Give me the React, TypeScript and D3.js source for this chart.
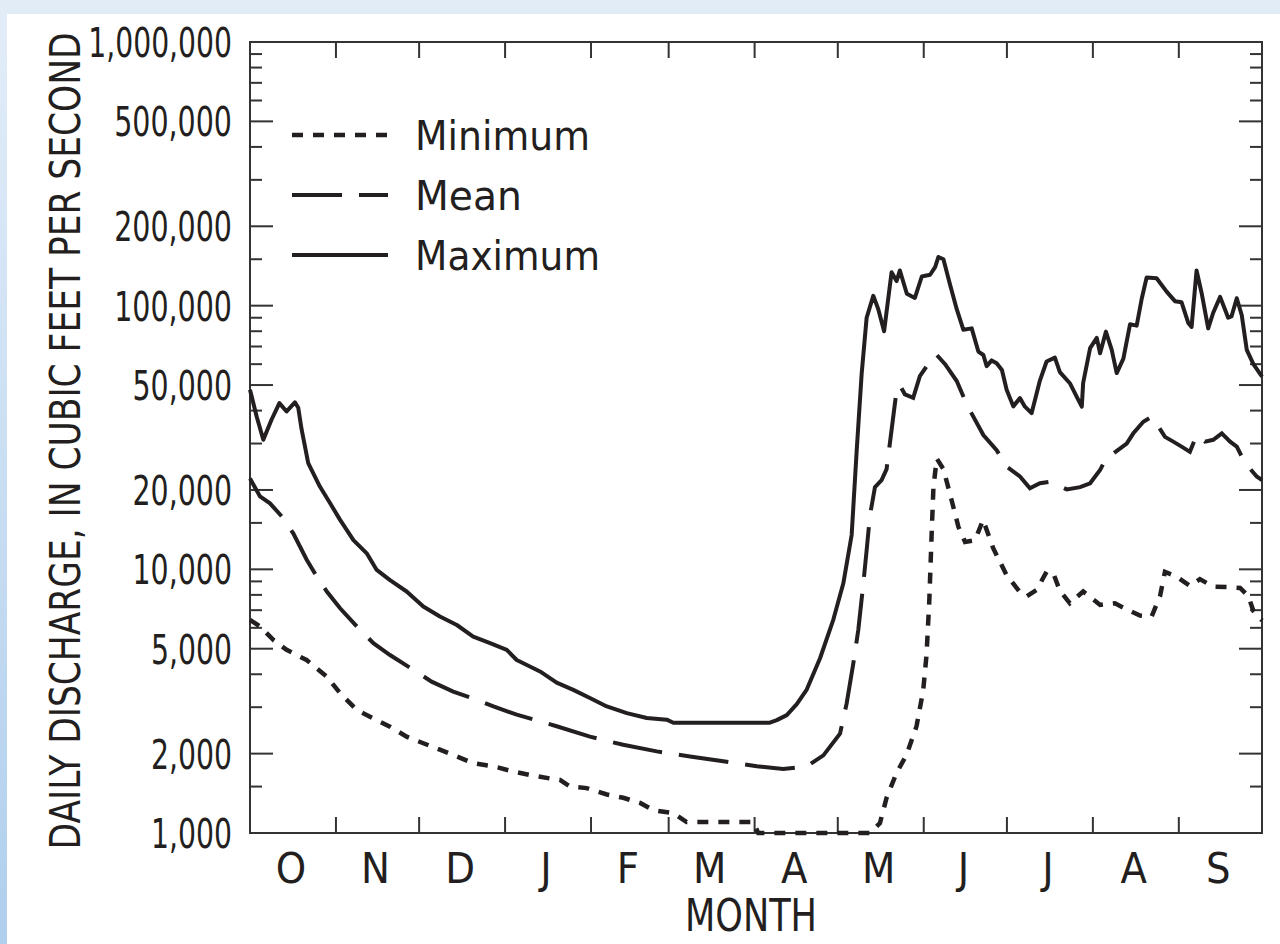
import * as React from 'react'
import * as d3 from 'd3'

// water-year day (0 = Oct 1) and daily discharge, cubic feet per second
const maximum: [number, number][] = [
  [0, 48000], [2.4, 38000], [4.8, 31000], [7.8, 37000], [10.6, 42700], [13.2, 39700], [16.2, 43000],
  [17.4, 41000], [18.6, 34000], [21.0, 25300], [25.2, 20600], [28.9, 17800], [32.5, 15400], [37.3, 12900],
  [42.1, 11500], [45.7, 9950], [50.5, 9100], [56.5, 8240], [62.5, 7230], [68.5, 6620], [74.6, 6150],
  [80.5, 5560], [86.6, 5250], [92.6, 4950], [96.2, 4530], [104.6, 4100], [110.6, 3720], [116.6, 3490],
  [122.6, 3250], [128.7, 3020], [135.9, 2850], [143.1, 2730], [150.3, 2690], [152.7, 2620], [187.5, 2620],
  [190.0, 2680], [193.6, 2800], [197.2, 3080], [200.8, 3500], [205.6, 4600], [210.4, 6450], [214.0, 8850],
  [217.0, 13500], [218.8, 28000], [220.6, 55000], [222.4, 90000], [224.8, 109000], [226.6, 97000],
  [228.7, 80000], [231.4, 134000], [233.2, 124000], [234.4, 136000], [236.9, 111000], [239.8, 107000],
  [242.3, 129000], [245.3, 131000], [247.1, 140000], [248.3, 153000], [250.1, 150000], [252.5, 120000],
  [254.9, 97000], [257.3, 81000], [260.3, 82000], [262.7, 67000], [264.5, 65000], [265.7, 59000],
  [267.5, 62000], [269.3, 60500], [271.2, 57000], [272.9, 48000], [275.3, 41500], [277.7, 44600],
  [279.5, 41400], [281.9, 39100], [284.9, 52000], [287.3, 61400], [290.3, 63500], [292.1, 56000],
  [295.7, 50800], [298.7, 44000], [300.0, 41400], [300.5, 51000], [303.0, 69000], [305.4, 75500],
  [306.6, 66000], [308.7, 79700], [310.8, 68000], [312.6, 55500], [315.0, 63000], [317.4, 85000],
  [319.8, 84000], [321.6, 106000], [323.4, 128000], [327.0, 127000], [330.6, 113000], [333.6, 104000],
  [336.0, 103000], [338.4, 86000], [339.6, 83000], [341.4, 136000], [343.2, 112000], [345.6, 82000],
  [347.4, 94000], [349.9, 108000], [352.8, 90000], [354.0, 91000], [355.9, 106700], [357.7, 92000],
  [359.5, 68000], [361.9, 60000], [365, 53800],
]

const mean: [number, number][] = [
  [0, 22100], [3.6, 18900], [7.2, 17800], [11.4, 15900], [15.6, 13700], [20.4, 10900], [24.1, 9380],
  [27.7, 8240], [32.5, 7120], [39.1, 5980], [44.5, 5250], [50.5, 4730], [58.9, 4160], [65.5, 3750],
  [73.3, 3440], [81.8, 3200], [87.8, 3020], [96.2, 2810], [104.6, 2650], [110.6, 2540], [122.6, 2320],
  [134.6, 2160], [146.7, 2040], [158.7, 1950], [170.7, 1870], [182.8, 1790], [192.3, 1750], [200.8, 1790],
  [206.8, 1970], [212.8, 2380], [215.2, 3100], [217.6, 4400], [219.4, 5900], [221.2, 8800], [222.4, 11800],
  [223.6, 16000], [225.4, 20500], [227.8, 21800], [229.6, 24000], [231.4, 33800], [233.2, 47700],
  [234.4, 49900], [236.2, 46100], [239.2, 44700], [241.6, 54000], [244.1, 59000], [246.5, 61000],
  [247.7, 65000], [250.7, 60000], [254.9, 51800], [258.5, 42200], [264.5, 32300], [269.3, 28300],
  [272.9, 24500], [277.7, 22500], [281.3, 20300], [284.9, 21200], [288.5, 21500], [291.0, 20900],
  [294.6, 20100], [299.4, 20500], [303.0, 21200], [306.6, 23800], [309.0, 26700], [311.4, 27500],
  [316.2, 30000], [318.6, 32800], [322.2, 36300], [325.2, 37900], [326.4, 36500], [330.0, 31800],
  [333.0, 30500], [336.0, 29200], [339.0, 27900], [341.4, 32300], [344.5, 30500], [347.4, 31000],
  [350.5, 32800], [353.5, 30500], [355.9, 29200], [358.9, 25300], [363.1, 22500], [365, 21800],
]

const minimum: [number, number][] = [
  [0, 6430], [3.6, 6070], [8.4, 5400], [13.2, 4950], [20.4, 4530], [27.7, 3920], [32.5, 3390],
  [38.5, 2930], [44.5, 2720], [50.5, 2530], [56.5, 2320], [62.5, 2190], [68.5, 2070], [74.6, 1950],
  [80.5, 1840], [87.8, 1790], [95.0, 1710], [101.0, 1660], [108.2, 1610], [111.8, 1590], [115.4, 1500],
  [121.4, 1480], [128.7, 1400], [134.6, 1360], [140.7, 1300], [145.5, 1220], [152.7, 1190], [157.5, 1100],
  [181.5, 1100], [183.3, 1000], [223.6, 1000], [227.2, 1090], [229.6, 1360], [233.2, 1690], [236.8, 1980],
  [240.4, 2540], [242.8, 3470], [244.0, 4730], [245.0, 7570], [245.9, 14100], [246.5, 20500],
  [247.7, 26300], [250.1, 24000], [253.1, 18200], [255.5, 14500], [257.9, 12700], [261.5, 12900],
  [264.4, 15400], [268.1, 12000], [272.9, 9500], [277.7, 8200], [280.1, 7900], [283.7, 8350],
  [287.3, 9790], [289.7, 9670], [292.1, 8300], [295.7, 7430], [300.5, 8240], [306.6, 7330], [312.0, 7430],
  [316.2, 7050], [321.0, 6680], [325.2, 6630], [328.2, 7900], [330.0, 9790], [334.2, 9380], [339.0, 8650],
  [342.6, 9180], [347.4, 8600], [352.3, 8570], [357.1, 8500], [360.1, 7900], [361.9, 6950], [365, 6400],
]

const months = ['O', 'N', 'D', 'J', 'F', 'M', 'A', 'M', 'J', 'J', 'A', 'S']
const monthDays = [31, 30, 31, 31, 28, 31, 30, 31, 30, 31, 31, 30]
const majorTicks = [1000, 2000, 5000, 10000, 20000, 50000, 100000, 200000, 500000, 1000000]
const minorMultiples = [1.5, 3, 4, 6, 7, 8, 9]
const legendItems = [
  { label: 'Minimum', dash: '11 10', len: 175 },
  { label: 'Mean', dash: '50 17', len: 107 },
  { label: 'Maximum', dash: null, len: 185 },
]

const W = 1280
const H = 944
const left = 250, right = 1262, top = 42, bottom = 833
const INK = '#231f20'
const FONT = "'Liberation Sans Narrow', 'Arial Narrow', 'DejaVu Sans Condensed', sans-serif"

// condensed width of a numeric label (the reference uses a narrow face)
const numWidth = (s: string) => s.split('').reduce((w, c) => w + (c === ',' ? 7.5 : 18.4), 0)

interface FitTextProps {
  x: number;
  y: number;
  width: number;
  size: number;
  anchor?: 'start' | 'middle' | 'end';
  rotate?: number;
  children: string;
}

// text squeezed horizontally to a given width with a transform, so its box is the drawn box
const FitText: React.FC<FitTextProps> = ({ x, y, width, size, anchor = 'start', rotate = 0, children }) => {
  const ref = React.useRef<SVGTextElement>(null)
  const [sx, setSx] = React.useState(1)

  React.useLayoutEffect(() => {
    if (!ref.current) return
    const natural = ref.current.getComputedTextLength()
    if (natural > 0) setSx(width / natural)
  }, [width, size, children])

  return (
    <text ref={ref} transform={`translate(${x},${y}) rotate(${rotate}) scale(${sx},1)`} textAnchor={anchor}
      fontFamily={FONT} fontSize={size} fill={INK}>
      {children}
    </text>
  )
}

const App: React.FC = () => {
  const x = d3.scaleLinear().domain([0, 365]).range([left, right])
  const y = d3.scaleLog().domain([1000, 1000000]).range([bottom, top])
  const line = d3.line<[number, number]>()
    .x(d => x(d[0]))
    .y(d => y(d[1]))

  const bounds = d3.cumsum(monthDays)
  const starts = [0, ...Array.from(bounds).slice(0, -1)]
  const minorTicks: number[] = []
  ;[1000, 10000, 100000].forEach(dec => minorMultiples.forEach(m => minorTicks.push(dec * m)))

  const fmt = d3.format(',')

  return (
    <svg width={W} height={H} style={{ position: 'absolute', left: 0, top: 0 }}>
      <defs>
        <linearGradient id="bg" x1="0" y1="0" x2="0" y2="1">
          <stop offset="0%" stopColor="#e3edf8" />
          <stop offset="100%" stopColor="#b0cfed" />
        </linearGradient>
      </defs>
      <rect x={0} y={0} width={W} height={H} fill="url(#bg)" />
      <rect x={0} y={0} width={W} height={14} fill="#e2ecf7" />
      <rect x={7} y={14} width={W - 7} height={H - 14} fill="#ffffff" />

      {/* frame */}
      <rect x={left} y={top} width={right - left} height={bottom - top} fill="none" stroke="#333" strokeWidth={2} />

      {/* y ticks, both sides, inward */}
      {majorTicks.map(v => (
        <g key={'M' + v} stroke="#333" strokeWidth={2}>
          <line x1={left} x2={left + 23} y1={y(v)} y2={y(v)} />
          <line x1={right} x2={right - 23} y1={y(v)} y2={y(v)} />
        </g>
      ))}
      {minorTicks.map(v => (
        <g key={'m' + v} stroke="#333" strokeWidth={2}>
          <line x1={left} x2={left + 12} y1={y(v)} y2={y(v)} />
          <line x1={right} x2={right - 12} y1={y(v)} y2={y(v)} />
        </g>
      ))}
      {majorTicks.map(v => (
        <FitText key={'t' + v} x={232} y={y(v) + 15} width={numWidth(fmt(v))} size={41} anchor="end">
          {fmt(v)}
        </FitText>
      ))}

      {/* month ticks at boundaries, top and bottom */}
      {Array.from(bounds).slice(0, -1).map(d => (
        <g key={'b' + d} stroke="#333" strokeWidth={2}>
          <line x1={x(d)} x2={x(d)} y1={bottom} y2={bottom - 16} />
          <line x1={x(d)} x2={x(d)} y1={top} y2={top + 16} />
        </g>
      ))}
      {months.map((m, i) => (
        <text key={'l' + i} x={x(starts[i] + monthDays[i] / 2) - 2} y={883} textAnchor="middle"
          fontFamily={FONT} fontSize={43} fill={INK}>{m}</text>
      ))}
      <FitText x={751} y={931} width={132} size={44} anchor="middle">MONTH</FitText>

      <FitText x={80} y={441} width={817} size={42} anchor="middle" rotate={-90}>
        DAILY DISCHARGE, IN CUBIC FEET PER SECOND
      </FitText>

      {/* series */}
      <path d={line(minimum) || ''} fill="none" stroke={INK} strokeWidth={4.5} strokeDasharray="11 10" />
      <path d={line(mean) || ''} fill="none" stroke={INK} strokeWidth={4} strokeDasharray="50 17" />
      <path d={line(maximum) || ''} fill="none" stroke={INK} strokeWidth={4} strokeLinejoin="round" />

      {/* legend */}
      {legendItems.map((it, i) => (
        <g key={it.label}>
          <line x1={292} x2={388} y1={135 + i * 60} y2={135 + i * 60} stroke={INK}
            strokeWidth={it.dash === '11 10' ? 4.5 : 4} strokeDasharray={it.dash || undefined} />
          <FitText x={415} y={150 + i * 60} width={it.len} size={41}>{it.label}</FitText>
        </g>
      ))}
    </svg>
  )
}

export default App
